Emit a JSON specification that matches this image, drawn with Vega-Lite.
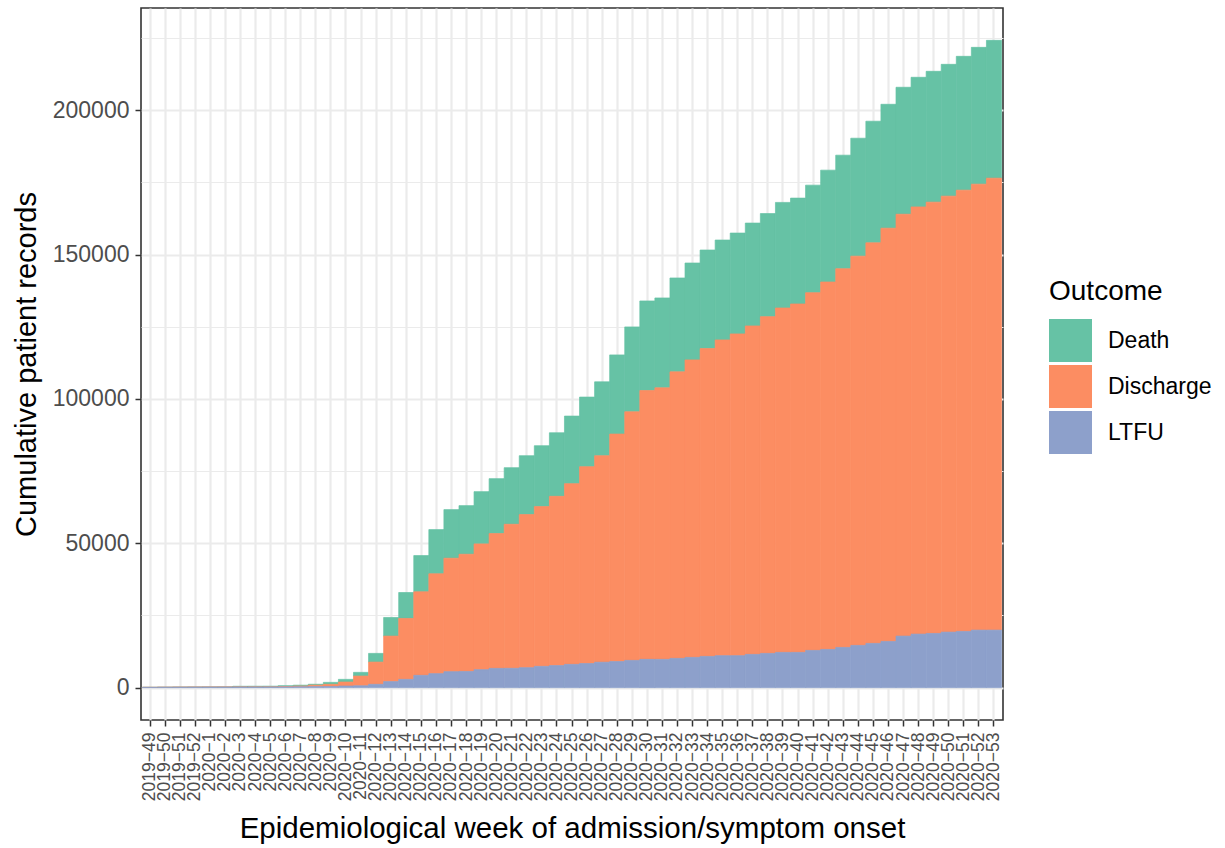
{
  "$schema": "https://vega.github.io/schema/vega-lite/v6.json",
  "width": 862,
  "height": 712,
  "autosize": {"type": "none"},
  "padding": {"left": 141, "top": 8, "right": 222, "bottom": 128},
  "background": "white",
  "config": {
    "font": "Liberation Sans",
    "view": {"stroke": "#333333", "strokeWidth": 1.6}
  },
  "data": {
    "values": [
      {"wk": "2019−49", "Death": 0, "Discharge": 0, "LTFU": 100},
      {"wk": "2019−50", "Death": 0, "Discharge": 0, "LTFU": 130},
      {"wk": "2019−51", "Death": 0, "Discharge": 0, "LTFU": 160},
      {"wk": "2019−52", "Death": 0, "Discharge": 0, "LTFU": 180},
      {"wk": "2020−1", "Death": 0, "Discharge": 0, "LTFU": 200},
      {"wk": "2020−2", "Death": 0, "Discharge": 0, "LTFU": 210},
      {"wk": "2020−3", "Death": 250, "Discharge": 0, "LTFU": 220},
      {"wk": "2020−4", "Death": 260, "Discharge": 0, "LTFU": 230},
      {"wk": "2020−5", "Death": 270, "Discharge": 0, "LTFU": 240},
      {"wk": "2020−6", "Death": 280, "Discharge": 150, "LTFU": 250},
      {"wk": "2020−7", "Death": 300, "Discharge": 250, "LTFU": 300},
      {"wk": "2020−8", "Death": 320, "Discharge": 500, "LTFU": 350},
      {"wk": "2020−9", "Death": 680, "Discharge": 750, "LTFU": 400},
      {"wk": "2020−10", "Death": 930, "Discharge": 1380, "LTFU": 560},
      {"wk": "2020−11", "Death": 1280, "Discharge": 3360, "LTFU": 650},
      {"wk": "2020−12", "Death": 3010, "Discharge": 7700, "LTFU": 1150},
      {"wk": "2020−13", "Death": 6450, "Discharge": 15750, "LTFU": 2100},
      {"wk": "2020−14", "Death": 8990, "Discharge": 21090, "LTFU": 2870},
      {"wk": "2020−15", "Death": 12560, "Discharge": 28940, "LTFU": 4250},
      {"wk": "2020−16", "Death": 15320, "Discharge": 34580, "LTFU": 4840},
      {"wk": "2020−17", "Death": 16840, "Discharge": 39290, "LTFU": 5530},
      {"wk": "2020−18", "Death": 16840, "Discharge": 40600, "LTFU": 5600},
      {"wk": "2020−19", "Death": 18090, "Discharge": 43570, "LTFU": 6220},
      {"wk": "2020−20", "Death": 19030, "Discharge": 46680, "LTFU": 6670},
      {"wk": "2020−21", "Death": 19600, "Discharge": 49880, "LTFU": 6700},
      {"wk": "2020−22", "Death": 20400, "Discharge": 53020, "LTFU": 6910},
      {"wk": "2020−23", "Death": 21090, "Discharge": 55330, "LTFU": 7370},
      {"wk": "2020−24", "Death": 22020, "Discharge": 58610, "LTFU": 7650},
      {"wk": "2020−25", "Death": 23410, "Discharge": 62590, "LTFU": 8060},
      {"wk": "2020−26", "Death": 24110, "Discharge": 68180, "LTFU": 8350},
      {"wk": "2020−27", "Death": 25590, "Discharge": 71530, "LTFU": 8800},
      {"wk": "2020−28", "Death": 27420, "Discharge": 78790, "LTFU": 9040},
      {"wk": "2020−29", "Death": 29400, "Discharge": 86100, "LTFU": 9440},
      {"wk": "2020−30", "Death": 31030, "Discharge": 93110, "LTFU": 9790},
      {"wk": "2020−31", "Death": 31130, "Discharge": 94050, "LTFU": 9790},
      {"wk": "2020−32", "Death": 32520, "Discharge": 99240, "LTFU": 10130},
      {"wk": "2020−33", "Death": 33550, "Discharge": 103040, "LTFU": 10480},
      {"wk": "2020−34", "Death": 34130, "Discharge": 106620, "LTFU": 10820},
      {"wk": "2020−35", "Death": 34590, "Discharge": 109370, "LTFU": 11070},
      {"wk": "2020−36", "Death": 34930, "Discharge": 111450, "LTFU": 11070},
      {"wk": "2020−37", "Death": 35630, "Discharge": 113760, "LTFU": 11520},
      {"wk": "2020−38", "Death": 35700, "Discharge": 116640, "LTFU": 11860},
      {"wk": "2020−39", "Death": 36560, "Discharge": 119290, "LTFU": 12210},
      {"wk": "2020−40", "Death": 36660, "Discharge": 120680, "LTFU": 12210},
      {"wk": "2020−41", "Death": 37240, "Discharge": 123900, "LTFU": 12900},
      {"wk": "2020−42", "Death": 38730, "Discharge": 127260, "LTFU": 13240},
      {"wk": "2020−43", "Death": 39320, "Discharge": 131170, "LTFU": 13930},
      {"wk": "2020−44", "Death": 40850, "Discharge": 134820, "LTFU": 14630},
      {"wk": "2020−45", "Death": 42120, "Discharge": 138740, "LTFU": 15320},
      {"wk": "2020−46", "Death": 42920, "Discharge": 143120, "LTFU": 16010},
      {"wk": "2020−47", "Death": 43970, "Discharge": 146120, "LTFU": 17850},
      {"wk": "2020−48", "Death": 44890, "Discharge": 147970, "LTFU": 18540},
      {"wk": "2020−49", "Death": 45310, "Discharge": 149390, "LTFU": 18770},
      {"wk": "2020−50", "Death": 45650, "Discharge": 151010, "LTFU": 19230},
      {"wk": "2020−51", "Death": 46350, "Discharge": 152840, "LTFU": 19470},
      {"wk": "2020−52", "Death": 47380, "Discharge": 154470, "LTFU": 19920},
      {"wk": "2020−53", "Death": 47730, "Discharge": 156540, "LTFU": 19920}
    ]
  },
  "transform": [
    {"fold": ["Death", "Discharge", "LTFU"], "as": ["Outcome", "Count"]}
  ],
  "encoding": {
    "x": {
      "field": "wk", "type": "nominal", "sort": null,
      "scale": {"paddingInner": 0, "paddingOuter": 0.1},
      "axis": {
        "title": "Epidemiological week of admission/symptom onset",
        "titleFontSize": 29.5, "titleFontWeight": "normal", "titleColor": "black",
        "titlePadding": 14,
        "labelAngle": -90, "labelFontSize": 17.5, "labelColor": "#4D4D4D",
        "labelPadding": 6,
        "tickColor": "#333333", "tickSize": 6, "tickWidth": 1.5,
        "domain": false, "grid": true, "gridColor": "#EBEBEB", "gridWidth": 2.2,
        "bandPosition": 0.5
      }
    }
  },
  "layer": [
    {
      "mark": {"type": "bar", "opacity": 0},
      "encoding": {
        "y": {
          "field": "Count", "type": "quantitative",
          "scale": {"domain": [-11210, 235400], "nice": false, "zero": false},
          "axis": {
            "orient": "left",
            "values": [25000, 75000, 125000, 175000, 225000],
            "grid": true, "gridColor": "#EBEBEB", "gridWidth": 1.1,
            "labels": false, "ticks": false, "domain": false, "title": null
          }
        }
      }
    },
    {
      "mark": {"type": "bar", "strokeWidth": 0.7},
      "encoding": {
        "y": {
          "field": "Count", "type": "quantitative", "stack": "zero",
          "scale": {"domain": [-11210, 235400], "nice": false, "zero": false},
          "axis": {
            "orient": "left",
            "title": "Cumulative patient records",
            "titleFontSize": 29, "titleFontWeight": "normal", "titleColor": "black",
            "titlePadding": 11,
            "values": [0, 50000, 100000, 150000, 200000], "format": "d",
            "labelFontSize": 23, "labelColor": "#4D4D4D", "labelPadding": 6,
            "tickColor": "#333333", "tickSize": 6, "tickWidth": 1.5,
            "domain": false, "grid": true, "gridColor": "#EBEBEB", "gridWidth": 2.2
          }
        },
        "color": {
          "field": "Outcome", "type": "nominal",
          "scale": {"domain": ["Death", "Discharge", "LTFU"], "range": ["#66C2A5", "#FC8D62", "#8DA0CB"]},
          "legend": {
            "orient": "none", "legendX": 908, "legendY": 270,
            "title": "Outcome", "titleFontSize": 28, "titleFontWeight": "normal", "titleColor": "black",
            "titlePadding": 13,
            "labelFontSize": 23, "labelColor": "black", "labelOffset": 16,
            "symbolType": "square", "symbolSize": 1849, "symbolStrokeWidth": 0, "symbolOpacity": 1,
            "rowPadding": 3, "padding": 0
          }
        },
        "stroke": {
          "field": "Outcome", "type": "nominal",
          "scale": {"domain": ["Death", "Discharge", "LTFU"], "range": ["#66C2A5", "#FC8D62", "#8DA0CB"]},
          "legend": null
        },
        "order": {"field": "Outcome", "sort": "descending"}
      }
    }
  ],
  "resolve": {"axis": {"y": "independent"}}
}
